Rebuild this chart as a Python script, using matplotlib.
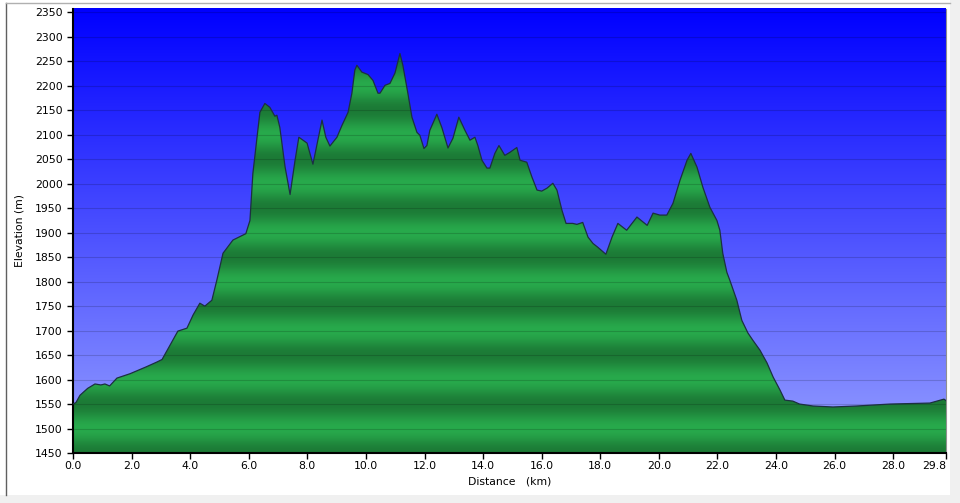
import numpy as np
import matplotlib
matplotlib.use("Agg")
import matplotlib.pyplot as plt
from matplotlib.patches import Polygon, Rectangle

# elevation profile
distance_km = [0.0, 0.1, 0.24, 0.5, 0.75, 0.95, 1.09, 1.25, 1.5, 1.95, 2.5, 2.87, 3.04,
               3.31, 3.58, 3.89, 4.1, 4.33, 4.5, 4.74, 4.91, 5.12, 5.46, 5.9, 6.04, 6.14,
               6.28, 6.38, 6.55, 6.72, 6.89, 6.96, 7.06, 7.24, 7.41, 7.58, 7.71, 7.85, 7.99,
               8.19, 8.36, 8.5, 8.63, 8.77, 9.01, 9.18, 9.39, 9.52, 9.62, 9.69, 9.86, 10.07,
               10.24, 10.41, 10.48, 10.65, 10.82, 10.99, 11.16, 11.26, 11.43, 11.57, 11.74,
               11.84, 11.98, 12.08, 12.18, 12.42, 12.59, 12.8, 12.97, 13.17, 13.38, 13.55,
               13.72, 13.82, 13.96, 14.13, 14.23, 14.4, 14.54, 14.74, 14.91, 15.15, 15.26,
               15.49, 15.67, 15.84, 16.0, 16.18, 16.38, 16.52, 16.69, 16.83, 17.06, 17.2,
               17.4, 17.58, 17.75, 17.92, 18.19, 18.4, 18.6, 18.9, 19.25, 19.6, 19.8, 20.03,
               20.27, 20.48, 20.72, 20.96, 21.09, 21.3, 21.5, 21.74, 21.98, 22.08, 22.18,
               22.32, 22.42, 22.66, 22.83, 23.04, 23.21, 23.45, 23.69, 23.9, 24.13, 24.3,
               24.57, 24.8, 25.26, 25.94, 26.75, 27.9, 29.25, 29.73, 29.8]
elevation_m = [1550, 1553, 1568, 1582, 1591, 1589, 1591, 1587, 1603, 1612, 1626, 1636, 1641,
               1670, 1699, 1705, 1732, 1756, 1750, 1762, 1803, 1858, 1885, 1898, 1925, 2021,
               2095, 2146, 2164, 2156, 2138, 2140, 2115, 2034, 1978, 2048, 2095, 2089, 2083,
               2040, 2089, 2130, 2095, 2077, 2095, 2119, 2146, 2185, 2232, 2242, 2228, 2223,
               2211, 2185, 2185, 2201, 2205, 2226, 2266, 2242, 2185, 2136, 2105,
               2099, 2072, 2078, 2109, 2142, 2115, 2073, 2093, 2136, 2109, 2089,
               2095, 2078, 2048, 2032, 2032, 2062, 2078, 2058, 2064, 2074, 2048,
               2044, 2013, 1987, 1985, 1991, 2001, 1987, 1946, 1919, 1919, 1917,
               1921, 1891, 1878, 1870, 1856, 1891, 1919, 1905, 1932, 1915, 1940, 1936,
               1936, 1960, 2007, 2048, 2062, 2034, 1993, 1952, 1925, 1905, 1858,
               1819, 1803, 1762, 1721, 1695, 1680, 1660, 1634, 1605, 1579, 1558,
               1556, 1550, 1546, 1544, 1546, 1550, 1552, 1560, 1557]

y_ticks = list(range(1450, 2351, 50))
x_ticks = [0.0, 2.0, 4.0, 6.0, 8.0, 10.0, 12.0, 14.0, 16.0, 18.0, 20.0, 22.0, 24.0,
           26.0, 28.0, 29.8]
x_labels = [f"{t:.1f}" for t in x_ticks]

W, H = 960, 503
y_min, y_max = 1450, 2358
x_max = 29.8

fig = plt.figure(figsize=(W / 100, H / 100), dpi=100, facecolor="white")

# window frame bits around the chart
fig.patches.append(Rectangle((0, 0), 1, 8 / H, transform=fig.transFigure,
                             facecolor="#f0f0f0", edgecolor="none"))
fig.patches.append(Rectangle((950 / W, 0), 10 / W, 1, transform=fig.transFigure,
                             facecolor="#f0f0f0", edgecolor="none"))
fig.lines.append(plt.Line2D([6 / W, 6 / W], [8 / H, 1 - 3 / H], transform=fig.transFigure,
                            color="#606060", lw=1))
fig.lines.append(plt.Line2D([6 / W, 950 / W], [1 - 3 / H, 1 - 3 / H], transform=fig.transFigure,
                            color="#b0b0b0", lw=1))

ax = fig.add_axes([73 / W, 1 - 453 / H, 873 / W, 444.5 / H])
ax.set_xlim(0, x_max)
ax.set_ylim(y_min, y_max)

# blue sky gradient
n = 400
t = np.linspace(0, 1, n)[:, None]  # 0 at bottom, 1 at top
top = np.array([0, 0, 255]) / 255
bottom = np.array([150, 160, 255]) / 255
sky = (bottom + (top - bottom) * t)[:, None, :].repeat(2, axis=1)
ax.imshow(sky, extent=[0, x_max, y_min, y_max], origin="lower", aspect="auto",
          interpolation="bilinear", zorder=0)

# banded green gradient, dark on odd 50s, bright on even hundreds
e = np.linspace(y_min, y_max, 900)
k = 0.5 - 0.5 * np.cos(2 * np.pi * (e - 1450) / 100)
dark = np.array([28, 122, 54]) / 255
bright = np.array([40, 170, 76]) / 255
green = (dark + (bright - dark) * k[:, None])[:, None, :].repeat(2, axis=1)
img = ax.imshow(green, extent=[0, x_max, y_min, y_max], origin="lower", aspect="auto",
                interpolation="bilinear", zorder=1)

verts = list(zip(distance_km, elevation_m)) + [(distance_km[-1], y_min), (distance_km[0], y_min)]
poly = Polygon(verts, closed=True, facecolor="none", edgecolor="none", transform=ax.transData)
ax.add_patch(poly)
img.set_clip_path(poly)

ax.plot(distance_km, elevation_m, color="#1c3040", lw=0.9, zorder=3)

for yt in y_ticks:
    ax.axhline(yt, color="black", alpha=0.16, lw=0.8, zorder=2)

ax.set_yticks(y_ticks)
ax.set_xticks(x_ticks)
ax.set_xticklabels(x_labels)
ax.tick_params(axis="both", labelsize=7.8, colors="black", length=4, width=1, direction="out")
ax.tick_params(axis="x", pad=2)
# last label sits left of its tick so it stays inside the window
last = ax.get_xticklabels()[-1]
last.set_horizontalalignment("right")
last.set_x(x_max + 0.1)

ax.spines["top"].set_visible(False)
ax.spines["right"].set_color("#909090")
ax.spines["left"].set_linewidth(1.5)
ax.spines["bottom"].set_linewidth(1.5)

ax.set_xlabel("Distance   (km)", fontsize=7.8, labelpad=4)
ax.set_ylabel("Elevation (m)", fontsize=7.8, labelpad=7)

fig.savefig("out.png", dpi=100, facecolor="white")
